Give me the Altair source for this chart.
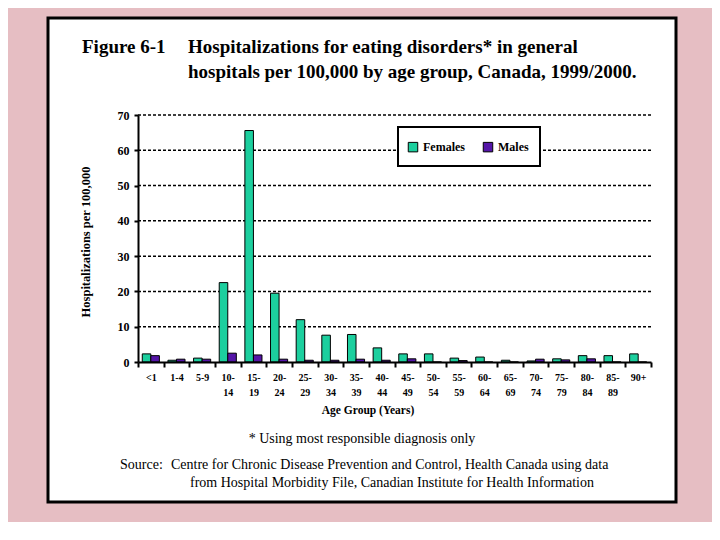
import altair as alt
import pandas as pd

ages = ["<1", "1-4", "5-9", "10-14", "15-19", "20-24", "25-29", "30-34", "35-39",
        "40-44", "45-49", "50-54", "55-59", "60-64", "65-69", "70-74", "75-79",
        "80-84", "85-89", "90+"]
females = [2.3, 0.5, 1.1, 22.5, 65.6, 19.5, 12.0, 7.6, 7.8, 4.0, 2.3, 2.3, 1.1, 1.4,
           0.5, 0.3, 0.9, 1.8, 1.8, 2.3]
males = [1.8, 0.8, 0.8, 2.5, 2.0, 0.8, 0.5, 0.5, 0.8, 0.5, 0.9, 0.0, 0.4, 0.0,
         0.0, 0.8, 0.6, 0.9, 0.0, 0.0]
series = ["Females", "Males"]
colors = ["#1CCF9E", "#5515A8"]
y_ticks = [0, 10, 20, 30, 40, 50, 60, 70]
grid_vals = [10, 20, 30, 40, 50, 60, 70]

title_fig = "Figure 6-1"
title_l1 = "Hospitalizations for eating disorders* in general"
title_l2 = "hospitals per 100,000 by age group, Canada, 1999/2000."
y_title = "Hospitalizations per 100,000"
x_title = "Age Group (Years)"
footnote = "* Using most responsible diagnosis only"
src_head = "Source:"
src_l1 = "Centre for Chronic Disease Prevention and Control, Health Canada using data"
src_l2 = "from Hospital Morbidity File, Canadian Institute for Health Information"

W, H = 513, 247
SERIF = "Liberation Serif"

rows = []
for a, f, m in zip(ages, females, males):
    rows.append({"age": a, "sex": "Females", "value": f})
    rows.append({"age": a, "sex": "Males", "value": m})
df = pd.DataFrame(rows)

one = pd.DataFrame({"k": [0]})

y_scale = alt.Scale(domain=[0, 70], nice=False)
y_axis = alt.Axis(values=y_ticks, grid=False, labelFont=SERIF,
                  labelFontWeight="bold", labelFontSize=12, labelColor="black",
                  tickSize=4, tickColor="black", tickWidth=2, labelPadding=5,
                  domainColor="black", domainWidth=2, zindex=2)

panel = alt.Chart(one).mark_rect(fill="white", stroke="black", strokeWidth=3).encode(
    x=alt.value(-90), x2=alt.value(538), y=alt.value(-97), y2=alt.value(387))

grid = alt.Chart(pd.DataFrame({"value": grid_vals})).mark_rule(
    color="black", strokeWidth=1.5, strokeDash=[3, 2]).encode(
    y=alt.Y("value:Q", title=None, axis=y_axis, scale=y_scale),
    x=alt.value(0), x2=alt.value(W))

legend_box = alt.Chart(one).mark_rect(fill="white", stroke="black", strokeWidth=2).encode(
    x=alt.value(260), x2=alt.value(402), y=alt.value(12), y2=alt.value(51))

label_expr = ("indexof(datum.label, '-') > 0 && length(datum.label) > 3 ? "
              "[slice(datum.label, 0, indexof(datum.label, '-') + 1), "
              "slice(datum.label, indexof(datum.label, '-') + 1)] : datum.label")

bars = alt.Chart(df).mark_bar(stroke="black", strokeWidth=1).encode(
    x=alt.X("age:N", sort=ages, title=None,
            scale=alt.Scale(paddingInner=0, paddingOuter=0),
            axis=alt.Axis(labelExpr=label_expr, labelAngle=0, labelFont=SERIF,
                          labelFontWeight="bold", labelFontSize=10, labelColor="black",
                          labelLineHeight=15, labelBaseline="top", labelPadding=5,
                          tickBand="extent", tickSize=5, tickColor="black", tickWidth=2,
                          domainColor="black", domainWidth=2, zindex=2)),
    xOffset=alt.XOffset("sex:N", sort=series,
                        scale=alt.Scale(paddingOuter=0.5, paddingInner=0)),
    y=alt.Y("value:Q", title=None, scale=y_scale, axis=y_axis),
    color=alt.Color("sex:N", sort=series,
                    scale=alt.Scale(domain=series, range=colors),
                    legend=alt.Legend(title=None, orient="none", legendX=269, legendY=26,
                                      direction="horizontal", symbolType="square",
                                      symbolSize=90, symbolStrokeColor="black",
                                      symbolStrokeWidth=1, labelFont=SERIF,
                                      labelFontWeight="bold", labelFontSize=12,
                                      labelColor="black", columnPadding=16,
                                      labelOffset=4, padding=0)),
)


def txt(s, x, y, size, weight="normal", align="left", angle=0):
    mk = dict(text=s, fontSize=size, font=SERIF, fontWeight=weight, align=align,
              baseline="middle", color="black")
    if angle:
        mk["angle"] = angle
    return alt.Chart(one).mark_text(**mk).encode(x=alt.value(x), y=alt.value(y))


texts = [
    txt(title_fig, -56, -68, 19, "bold"),
    txt(title_l1, 50, -68, 19, "bold"),
    txt(title_l2, 50, -43, 19, "bold"),
    txt(y_title, -52, 127, 12.5, "bold", "center", 270),
    txt(x_title, 230, 296, 11.5, "bold", "center"),
    txt(footnote, 224, 324, 14, "normal", "center"),
    txt(src_head, -18, 350, 14),
    txt(src_l1, 33, 350, 14),
    txt(src_l2, 52, 368, 14),
]

chart = alt.layer(panel, grid, legend_box, bars, *texts).resolve_scale(
    y="shared").properties(
    width=W, height=H, autosize="none",
    padding={"left": 130, "top": 107, "right": 61, "bottom": 160},
).configure(background="#E6BEC3", font=SERIF).configure_view(stroke=None)

chart.save("out.html", embed_options={"renderer": "svg", "actions": False})
